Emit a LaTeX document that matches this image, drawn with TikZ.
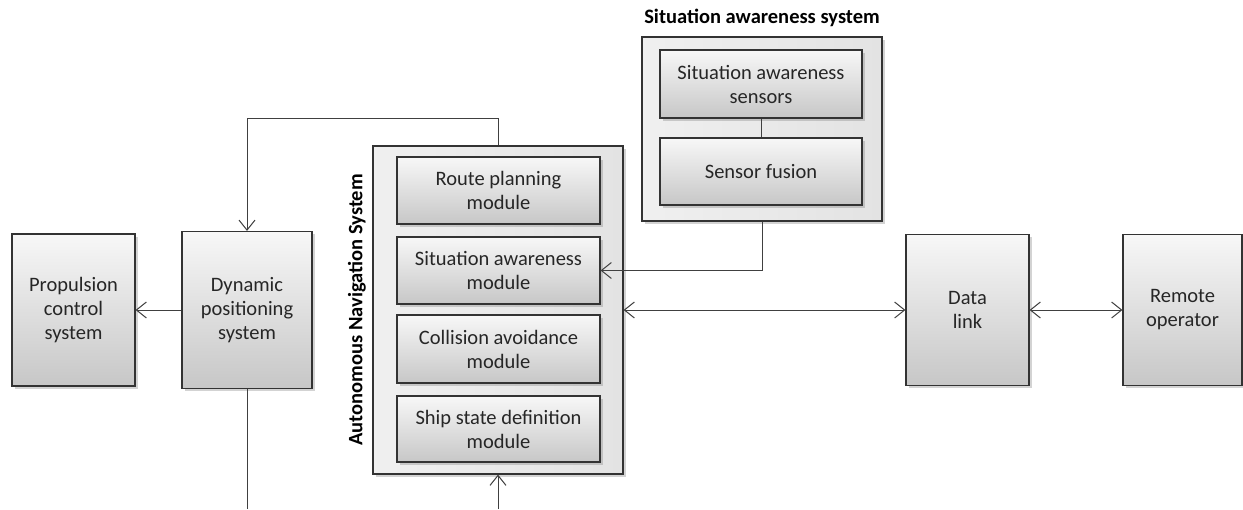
\documentclass[tikz,border=0pt]{standalone}
\usepackage{fontspec}
\setmainfont{Carlito}
\usetikzlibrary{arrows.meta,shadows}
\tikzset{>={Straight Barb[length=10pt,width=16pt]}}
\tikzset{
  block/.style={draw=black!80, line width=1.2pt, top color=gray!6, bottom color=gray!44,
    drop shadow={shadow xshift=2.5pt,shadow yshift=-2.5pt,opacity=0.35},
    align=center, text=black!85, inner sep=2pt, font=\fontsize{20.5}{24}\selectfont},
  groupbox/.style={draw=black!80, line width=1.2pt, left color=gray!12, right color=gray!22,
    drop shadow={shadow xshift=2.5pt,shadow yshift=-2.5pt,opacity=0.35}, inner sep=0pt},
  grouptitle/.style={text=black, font=\fontsize{20.5}{24}\selectfont\bfseries},
  link/.style={line width=1pt, draw=black!75}
}

\begin{document}
\begin{tikzpicture}[x=1pt,y=-1pt]
\useasboundingbox (0,0) rectangle (1243,509);
% outer systems
\node[groupbox, minimum width=250, minimum height=328] (ans) at (498,310) {};
\node[groupbox, minimum width=240, minimum height=184] (sas) at (762,129) {};
\node[grouptitle] (sastitle) at (762,18) {Situation awareness system};
\node[grouptitle, rotate=90] (anstitle) at (357,310) {Autonomous Navigation System};
% blocks
\node[block, minimum width=123, minimum height=152] (prop) at (73.5,310) {Propulsion\\control\\system};
\node[block, minimum width=130, minimum height=157] (dps) at (247,310) {Dynamic\\positioning\\system};
\node[block, minimum width=203, minimum height=67] (route) at (498.5,190.5) {Route planning\\module};
\node[block, minimum width=203, minimum height=67] (samod) at (498.5,270.5) {Situation awareness\\module};
\node[block, minimum width=203, minimum height=68] (coll) at (498.5,349) {Collision avoidance\\module};
\node[block, minimum width=203, minimum height=66] (ship) at (498.5,429) {Ship state definition\\module};
\node[block, minimum width=202, minimum height=68] (sasens) at (761,84) {Situation awareness\\sensors};
\node[block, minimum width=202, minimum height=67] (fusion) at (761,171.5) {Sensor fusion};
\node[block, minimum width=123, minimum height=151] (dlink) at (967.5,310) {Data\\link};
\node[block, minimum width=119, minimum height=151] (remote) at (1182.5,310) {Remote\\operator};
\coordinate (dpsout) at (247,509);
\coordinate (ansin) at (498,509);
% connectors
\draw[link, ->] (dps) -- (prop);
\draw[link, ->] (ans.north) -- ++(0,-27) -| (dps.north);
\draw[link] (dps.south) -- (dpsout);
\draw[link, ->] (ansin) -- (ans.south);
\draw[link] (sasens) -- (fusion);
\draw[link, ->] (sas.south) |- (samod.east);
\draw[link, <->] (ans) -- (dlink);
\draw[link, <->] (dlink) -- (remote);
\end{tikzpicture}
\end{document}
